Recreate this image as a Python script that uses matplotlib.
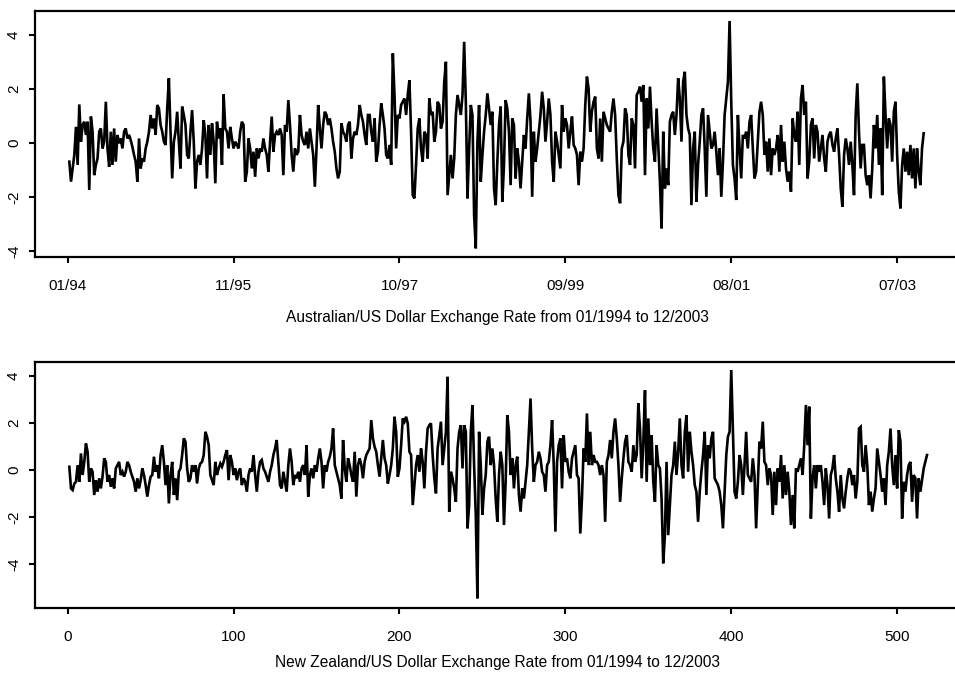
import numpy as np
import matplotlib
matplotlib.use("Agg")
import matplotlib.pyplot as plt

plt.rcParams["font.family"] = ["Liberation Sans", "DejaVu Sans"]

# === Данные: недельные изменения курса ===
aud_a = [-0.69, -1.43, -0.94, -0.44, 0.60, -0.81, 1.43, 0.05, 0.67, 0.79,
         0.30, 0.79, -1.74, 0.98, 0.42, -1.19, -0.81, -0.57, 0.42, 0.54,
         -0.20, 0.05, 1.53, -0.20, -0.88, 0.42, -0.81, 0.54, -0.69, 0.30,
         -0.01, 0.17, -0.20, 0.42, 0.54, 0.17, 0.30, 0.11, -0.14, -0.44,
         -0.69, -1.43, 0.17, -0.94, -0.57, -0.69, -0.20, 0.05, 0.42, 1.04,
         0.54, 0.91, 0.30, 1.41, 1.28, 0.67, 0.42, 0.05, -0.07, 1.28,
         2.40, 0.42, -1.31, 0.05, 0.42, 1.16, 0.05, -0.94, 1.35, 1.04,
         0.67, -0.44, -0.57, 0.42, 1.22, 0.05, -1.68, -0.69, -0.44, -0.81,
         -0.20, 0.85, 0.30, -1.31, 0.67, -0.44, 0.73, 0.05, -1.49, 0.79,
         0.17, 0.54, -0.81, 1.80, 0.54, 0.42, -0.20, 0.60, 0.17, -0.20,
         0.05, -0.07]
aud_b = [-0.20, 0.42, 0.79, 0.67, -1.43, -1.06, 0.17, -0.20, -0.94, -0.32,
         -1.25, -0.20, -0.57, -0.20, -0.32, 0.17, -0.20, -0.44, -1.06, 0.05,
         0.98, -0.32, 0.30, 0.42, 0.30, 0.54, 0.30, -1.19, 0.67, 0.42,
         1.59, 0.67, -0.44, -1.06, -0.20, -0.44, -0.32, 1.04, 0.30, 0.05,
         -0.07, 0.42, -0.20, 0.54, 0.05, -0.44, -1.62, -0.20, 1.41, 0.54,
         -0.20, 0.67, 1.16, 1.04, 0.67, 0.91, 0.54, 0.05, -0.32, -0.94,
         -1.31, -1.06, 0.73, 0.42, 0.30, 0.05, 0.67, 0.79, -0.57, 0.17,
         0.42, 0.30, 0.67, 1.41, 1.04, 0.79, 0.30, -0.07, 1.04, 1.04,
         0.42, 0.05, 0.91, -0.69, -0.32, 0.67, 1.47, 1.04, 0.54, -0.44,
         -0.57, -0.07, -0.81, 3.32, 1.78, -0.20, 1.04, 0.91, 1.41, 1.53,
         1.65, 1.04, 1.78, 2.33, 0.42, -1.93]
aud_c = [-2.05, -0.81, 0.54, 0.91, -0.20, -0.69, 0.42, 0.30, -0.57, 1.65,
         1.04, 1.16, 0.05, 0.42, 1.53, 1.41, 0.54, 0.79, 2.27, 3.01,
         -1.93, -1.19, -0.44, -1.31, -0.57, 1.04, 1.78, 1.41, 1.04, 1.78,
         3.75, 1.53, -2.05, -0.20, 1.41, 1.04, -2.67, -3.90, 0.05, 1.41,
         -1.43, -0.44, 0.42, 1.04, 1.84, 1.28, 0.67, 1.16, -1.68, -2.30,
         -0.69, 0.67, 1.35, -2.17, -0.81, 1.59, 1.28, 0.42, -1.56, 0.91,
         0.67, -1.31, -0.20, -0.69, -1.68, -0.69, 0.30, -0.20, 0.91, 1.84,
         0.79, -1.99, 0.42, -0.69, -0.20, 0.42, 1.04, 1.90, 1.28, 0.05,
         0.79, 1.65, 1.04, -0.69, -1.43, 0.42, 0.05, -0.44, -0.94, 1.41,
         0.42, 0.91, 0.67, -0.20, 0.42, 0.98, -0.07, -0.20, -0.44, -1.56,
         -0.32, -0.69, -0.20, 1.41, 2.46]
aud_d = [2.02, 0.42, 1.16, 1.53, 1.72, -0.20, -0.57, 0.91, -0.69, 1.16,
         0.91, 0.67, 0.54, 0.42, 1.16, 1.65, 1.04, -0.57, -1.93, -2.23,
         -0.20, 0.05, 1.28, 1.04, -0.44, -0.81, 0.91, 0.67, -0.94, 1.78,
         1.90, 2.09, 1.53, 2.15, -1.19, 1.65, 0.54, 2.09, 0.79, -0.20,
         -0.69, 1.28, -0.07, -1.43, -3.16, 0.42, -1.68, -0.94, -1.56, 0.79,
         1.04, 1.16, 0.30, 1.04, 2.40, 1.65, 0.05, 2.27, 2.64, 1.04,
         0.54, 0.30, -2.30, -0.20, 0.42, -2.17, -0.81, 0.05, 1.04, 1.28,
         -0.20, -1.99, 1.04, 0.42, -0.20, -0.07, 0.42, -0.32, -1.19, -0.20,
         -1.99, -0.69, 1.04, 1.65, 2.27, 4.52, 1.53, -0.81, -1.31, -2.11,
         1.04, -0.20, -1.31, 0.30, 0.17, 0.42, -0.20, 0.79, 1.04, -0.20,
         -1.31, -1.06, 0.05, 1.16, 1.53]
aud_e = [1.04, -0.44, 0.05, -1.06, 0.17, -1.19, -0.20, -0.44, -0.20, 0.30,
         -1.06, 0.67, -0.69, 0.05, -0.94, -1.43, -1.06, -1.80, 0.91, 0.30,
         0.05, 1.16, -0.81, 1.65, 2.15, 1.04, 1.53, -1.31, -0.69, 0.67,
         0.91, -0.57, 0.67, 0.42, -0.69, -0.20, 0.30, -0.57, -1.06, 0.05,
         0.30, 0.42, -0.07, -0.32, 0.17, 0.54, -0.44, -1.68, -2.36, -0.44,
         0.17, -0.20, -0.81, 0.05, -0.81, -1.93, 1.04, 2.21, 0.42, -0.94,
         -0.07, -0.07, -1.19, -1.56, -1.19, -2.05, -0.94, 0.67, -0.20, 1.04,
         -0.81, 0.54, -1.93, 2.46, 1.04, -0.20, 0.91, 0.67, -0.69, 1.16,
         1.53, -0.44, -1.80, -2.42, -0.81, -0.20, -1.06, -0.32, -1.19, -0.07,
         -1.31, -0.20, -1.68, -0.20, -1.06, -1.56, -0.20, 0.36]

nzd_a = [0.14, -0.78, -0.85, -0.57, -0.50, 0.21, -0.50, 0.71, -0.21, 0.35,
         1.13, 0.78, -0.50, 0.07, -0.07, -1.06, -0.43, -0.92, -0.35, -0.78,
         -0.28, 0.50, 0.35, -0.50, -0.21, -0.71, -0.35, -0.78, 0.07, 0.21,
         0.35, -0.21, -0.07, -0.28, -0.07, 0.35, 0.21, -0.07, -0.28, -0.50,
         -0.92, -0.35, -0.78, -0.43, 0.07, -0.21, -0.64, -1.13, -0.64, -0.28,
         -0.21, 0.57, -0.07, 0.21, -0.35, 0.64, 1.06, 0.35, -0.64, 0.21,
         -1.42, -0.21, 0.35, -1.06, -0.35, -1.28, -0.07, 0.07, 0.64, 1.35,
         1.21, 0.07, -0.50, -0.35, 0.21, -0.07, 0.21, -0.57, 0.07, 0.28,
         0.35, 0.64, 1.63, 1.42, 1.06, -0.21, -0.43, -0.64, 0.35, -0.21,
         0.07, 0.28, 0.14, 0.35, 0.64, 0.85, -0.43, 0.64, 0.35, -0.21,
         0.07, -0.43, -0.07, 0.07]
nzd_b = [-0.64, -0.35, -0.50, -0.92, -0.21, 0.07, -0.07, 0.64, -0.21, -0.92,
         -0.07, 0.35, 0.43, 0.07, -0.07, -0.28, -0.50, -0.07, 0.21, 0.64,
         0.92, 1.28, 0.35, -0.64, -0.78, -0.07, -0.50, -0.92, 0.21, 0.92,
         0.35, -0.64, -0.21, -0.35, -0.07, -0.50, 0.07, 0.21, -0.21, 1.06,
         -1.13, -0.21, 0.07, -0.35, 0.21, -0.07, 0.50, 0.92, 0.35, -0.78,
         0.21, -0.07, 0.35, 0.57, 0.92, 1.77, 0.21, -0.07, -0.35, -0.64,
         -1.21, 1.28, 0.07, -0.50, 0.50, 0.21, -0.21, -0.50, 0.78, -1.13,
         0.21, 0.50, 0.21, -0.35, 0.35, 0.64, 0.78, 0.92, 2.13, 1.35,
         0.99, 0.78, 0.21, -0.28, 0.50, 1.28, 0.50, 0.21, -0.57, -0.21,
         0.21, 0.92, 2.27, 1.63, -0.28, 0.07, 1.06, 2.20, 2.06, 2.27,
         1.99, 0.78, 0.64, -1.49, -0.64]
nzd_c = [0.21, 0.64, -0.07, 0.92, 0.35, -0.78, 0.78, 1.77, 1.91, 1.99,
         0.64, -0.35, -0.99, 0.92, 1.49, 2.06, 0.21, 0.92, 1.63, 3.97,
         -1.77, -0.07, -0.35, -0.78, -1.35, 0.92, 1.63, 1.91, 0.07, 1.91,
         1.63, -2.48, -1.49, 1.63, 2.77, 0.21, -1.91, -5.46, 1.63, 0.21,
         -1.91, -0.78, -0.21, 1.21, 1.42, 0.21, 0.92, 0.21, -1.21, -2.20,
         -0.21, 0.78, 0.21, -2.34, -0.50, 2.34, 1.63, -0.21, 0.50, -0.78,
         0.21, 0.57, -1.06, -1.77, -0.78, -1.21, -0.50, 0.21, 1.63, 3.05,
         0.92, -0.50, 0.21, 0.35, 0.78, 0.50, -0.07, -0.21, -0.92, 0.21,
         0.35, 1.06, 2.13, 0.21, -2.62, 0.35, 1.06, 1.35, -0.78, 1.49,
         0.35, 0.50, -0.07, -0.35, 0.50, 0.78, 1.06, -0.21, -0.35, -2.70,
         -1.21, 0.92, 0.35, 2.41, 0.21]
nzd_d = [1.63, 0.21, 0.64, 0.35, 0.35, 0.21, -0.21, 0.21, -0.21, -2.20,
         0.35, 0.64, 1.28, 0.50, 1.63, 2.20, 1.35, 0.21, -1.35, -0.35,
         0.50, 1.21, 1.49, 0.35, 0.21, -0.07, 1.06, 0.35, 0.64, 2.84,
         1.77, -0.35, 1.21, 3.40, -0.50, 2.20, 0.21, 1.49, -0.50, -1.35,
         1.06, 0.21, 0.07, -1.21, -3.97, -2.77, 0.35, -2.77, -1.49, -0.21,
         0.21, 1.21, -0.21, 0.78, 2.20, 0.21, -0.35, 1.63, 2.34, -0.07,
         1.63, 0.78, 0.21, -0.64, -0.92, -2.20, -0.92, -0.07, 0.64, 1.63,
         -1.06, 1.06, 0.50, 1.35, 1.63, -0.35, -0.50, -0.64, -0.92, -1.49,
         -2.48, -0.92, 0.64, 1.42, 1.63, 4.26, 1.63, -0.92, -1.21, -0.50,
         0.64, 0.21, -1.06, 0.21, 1.63, -0.21, -0.35, -0.50, 0.50, -0.21,
         -2.48, -0.64, 1.21, 0.92, 2.06, 0.35]
nzd_e = [0.21, -0.64, 0.07, -0.21, -1.91, -0.07, -1.49, 0.07, -0.50, 0.64,
         -1.21, 0.21, -1.06, -0.07, -0.92, -2.34, -1.06, -2.48, 0.07, -0.07,
         0.21, 0.50, -0.21, 1.06, 2.77, 1.06, 2.70, -2.06, -0.35, 0.21,
         -0.78, 0.21, -0.07, 0.21, -0.50, -1.49, 0.07, -0.64, -2.06, -0.21,
         0.07, 0.64, -0.35, -0.92, -1.77, -0.21, -1.21, -1.63, -0.92, -0.35,
         0.07, -0.07, -0.64, -0.21, -1.21, -0.50, 1.77, 1.84, 0.21, -0.07,
         1.06, 0.21, -1.49, -0.92, -1.77, -1.21, -0.78, 0.92, 0.35, -0.21,
         -0.92, -0.35, -1.49, 0.21, 0.78, 1.77, 0.21, -0.64, 0.64, -0.78,
         1.70, 1.21, -2.06, -0.50, -0.92, -0.21, 0.21, 0.35, -1.35, -0.21,
         -0.35, -2.06, -0.35, -0.92, -0.43, 0.07, 0.35, 0.64]

aud = np.array(aud_a + aud_b + aud_c + aud_d + aud_e)
nzd = np.array(nzd_a + nzd_b + nzd_c + nzd_d + nzd_e)

date_ticks = [0, 100, 200, 300, 400, 500]
date_labels = ["01/94", "11/95", "10/97", "09/99", "08/01", "07/03"]
week_labels = ["0", "100", "200", "300", "400", "500"]
y_ticks = [-4, -2, 0, 2, 4]

W, H = 955, 675
fig = plt.figure(figsize=(W / 100, H / 100), dpi=100)


def make_axes(top_px, bottom_px):
    left_px, right_px = 35, 963
    return fig.add_axes([left_px / W, 1 - bottom_px / H,
                         (right_px - left_px) / W, (bottom_px - top_px) / H])


def style(ax, series, ylim, xticklabels):
    x = np.arange(1, len(series) + 1)
    ax.plot(x, series, color="black", lw=1.9, solid_joinstyle="miter")
    ax.set_xlim(-19.7, 539.7)
    ax.set_ylim(*ylim)
    ax.set_xticks(date_ticks)
    ax.set_xticklabels(xticklabels)
    ax.set_yticks(y_ticks)
    ax.set_yticklabels([str(v) for v in y_ticks], rotation=90, va="center")
    for side in ["left", "top", "bottom", "right"]:
        ax.spines[side].set_linewidth(1.6)
    ax.tick_params(axis="both", direction="out", length=4, width=1.5,
                   labelsize=11)
    ax.tick_params(axis="x", pad=12)
    ax.tick_params(axis="y", pad=6)


ax1 = make_axes(11, 257)
style(ax1, aud, (-4.22, 4.89), date_labels)
ax2 = make_axes(362, 608)
style(ax2, nzd, (-5.87, 4.6), week_labels)

fig.text(497 / W, 1 - 318 / H,
         "Australian/US Dollar Exchange Rate from 01/1994 to 12/2003",
         ha="center", va="center", fontsize=11.2)
fig.text(497 / W, 1 - 663 / H,
         "New Zealand/US Dollar Exchange Rate from 01/1994 to 12/2003",
         ha="center", va="center", fontsize=11.2)

fig.savefig("out.png", dpi=100)
